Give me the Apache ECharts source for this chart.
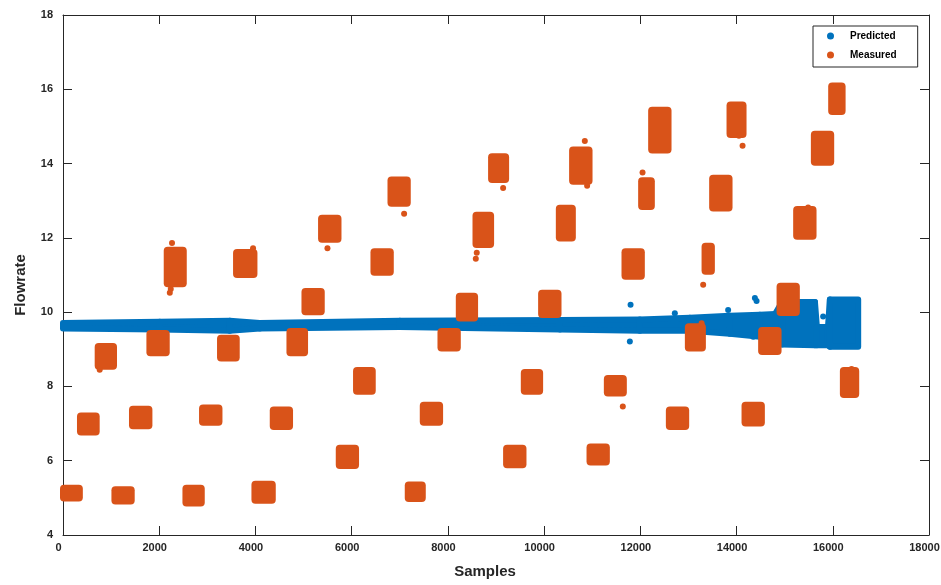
<!DOCTYPE html>
<html><head><meta charset="utf-8">
<script src="https://cdn.jsdelivr.net/npm/echarts@6/dist/echarts.min.js"></script>
<style>html,body{margin:0;padding:0;background:#fff}#c{width:941px;height:585px}</style>
</head><body><div id="c"></div>
<script>
// ---- tick labels ----
const xTicks = [0, 2000, 4000, 6000, 8000, 10000, 12000, 14000, 16000, 18000];
const xTickLabels = ['0', '2000', '4000', '6000', '8000', '10000', '12000', '14000', '16000', '18000'];
const yTicks = [4, 6, 8, 10, 12, 14, 16, 18];
const yTickLabels = ['4', '6', '8', '10', '12', '14', '16', '18'];

// ---- Measured: clusters of samples (extent of point cloud) ----
const measStart = [0, 353, 721, 1069, 1434, 1796, 2156, 2545, 2890, 3264, 3597, 3979, 4360, 4707, 5019, 5364, 5732, 6091, 6453, 6807, 7166, 7478, 7846, 8227, 8574, 8898, 9210, 9578, 9938, 10306, 10582, 10944, 11304, 11671, 12017, 12225, 12593, 12988, 13335, 13493, 13854, 14166, 14511, 14894, 15239, 15607, 15967, 16210];
const measEnd   = [350, 700, 1060, 1428, 1796, 2156, 2510, 2884, 3252, 3611, 3979, 4360, 4719, 5031, 5378, 5726, 6091, 6438, 6813, 7166, 7478, 7838, 8206, 8565, 8898, 9210, 9571, 9917, 10299, 10597, 10944, 11304, 11657, 12031, 12239, 12586, 12953, 13300, 13487, 13854, 14145, 14526, 14873, 15253, 15600, 15967, 16204, 16487];
const measLow   = [4.98, 6.76, 8.53, 4.90, 6.93, 8.89, 10.75, 4.85, 7.02, 8.75, 11.00, 4.92, 6.91, 8.89, 10.00, 11.95, 5.86, 7.86, 11.06, 12.92, 4.97, 7.02, 9.02, 9.83, 11.81, 13.56, 5.88, 7.86, 9.92, 11.98, 13.51, 5.95, 7.81, 10.95, 12.83, 14.35, 6.91, 9.02, 11.09, 12.79, 14.77, 7.00, 8.93, 9.98, 12.03, 14.02, 15.39, 7.77];
const measHigh  = [5.27, 7.22, 9.09, 5.23, 7.40, 9.44, 11.68, 5.27, 7.43, 9.31, 11.62, 5.38, 7.38, 9.49, 10.57, 12.54, 6.35, 8.44, 11.64, 13.57, 5.36, 7.51, 9.49, 10.44, 12.62, 14.20, 6.35, 8.39, 10.52, 12.81, 14.38, 6.38, 8.23, 11.64, 13.55, 15.45, 7.38, 9.62, 11.79, 13.62, 15.59, 7.51, 9.52, 10.71, 12.78, 14.80, 16.10, 8.44];
// isolated measured points
const measOutX = [2266, 2240, 2220, 763, 3950, 5497, 7090, 8580, 8600, 9148, 10846, 10894, 11636, 12046, 13273, 13306, 14049, 14125, 15488, 16390];
const measOutY = [11.86, 10.62, 10.52, 8.45, 11.72, 11.72, 12.65, 11.44, 11.60, 13.34, 14.61, 13.40, 7.46, 13.76, 9.70, 10.74, 14.75, 14.48, 12.82, 8.47];

// ---- Predicted: envelope of the dense band ----
const predSample = [0, 2010, 3466, 4090, 7000, 10330, 11990, 13030, 13860, 14485, 14800, 14945, 15630, 15670, 15900, 15940, 16528];
const predLow    = [9.56, 9.53, 9.50, 9.56, 9.60, 9.53, 9.50, 9.50, 9.42, 9.34, 9.25, 9.13, 9.11, 9.11, 9.11, 9.07, 9.07];
const predHigh   = [9.71, 9.74, 9.77, 9.71, 9.77, 9.79, 9.80, 9.85, 9.90, 9.93, 9.95, 10.27, 10.27, 9.60, 9.60, 10.34, 10.34];
const predOutX = [11797, 11782, 14381, 14416, 13825, 15800, 12717, 14345];
const predOutY = [10.20, 9.21, 10.38, 10.30, 10.06, 9.88, 9.97, 9.34];

const BLUE = '#0072BD', ORANGE = '#D95319', AX = '#262626';
const FONT = '"Liberation Sans", Arial, Helvetica, sans-serif';
const R = 3;

const clusterData = measStart.map((s, i) => [s, measEnd[i], measLow[i], measHigh[i]]);
const bandData = [];
for (let i = 0; i < predSample.length - 1; i++) {
  bandData.push([predSample[i], predLow[i], predHigh[i], predSample[i + 1], predLow[i + 1], predHigh[i + 1]]);
}

const chart = echarts.init(document.getElementById('c'), null, {renderer: 'canvas'});
const axisCommon = {
  type: 'value',
  axisLine: {show: true, onZero: false, lineStyle: {color: AX, width: 1}},
  axisTick: {show: true, inside: true, length: 9, lineStyle: {color: AX, width: 1}},
  splitLine: {show: false}
};
chart.setOption({
  animation: false,
  backgroundColor: '#fff',
  grid: {left: 63, right: 12, top: 15, bottom: 50, containLabel: false, outerBoundsMode: 'none'},
  legend: {
    left: 813, top: 26, orient: 'vertical',
    backgroundColor: '#fff', borderColor: AX, borderWidth: 1,
    padding: [5, 21, 7, 14], itemGap: 9, itemWidth: 7, itemHeight: 7,
    textStyle: {fontFamily: FONT, fontWeight: 'bold', fontSize: 10, color: '#000', padding: [0, 0, 0, 11]},
    data: [
      {name: 'Predicted', icon: 'circle', itemStyle: {color: BLUE}},
      {name: 'Measured', icon: 'circle', itemStyle: {color: ORANGE}}
    ]
  },
  xAxis: [
    Object.assign({}, axisCommon, {
      position: 'bottom', min: 0, max: 18000, interval: 2000,
      axisLabel: {show: true, margin: 7, color: AX, fontFamily: FONT, fontWeight: 'bold', fontSize: 11,
        padding: [0, 9, 0, 0],
        formatter: v => xTickLabels[xTicks.indexOf(v)]},
      name: 'Samples', nameLocation: 'middle', nameGap: 29,
      nameTextStyle: {fontFamily: FONT, fontWeight: 'bold', fontSize: 15, color: AX, padding: [0, 22, 0, 0]}
    }),
    Object.assign({}, axisCommon, {
      position: 'top', min: 0, max: 18000, interval: 2000, axisLabel: {show: false}
    })
  ],
  yAxis: [
    Object.assign({}, axisCommon, {
      position: 'left', min: 4, max: 18, interval: 2,
      axisLabel: {show: true, margin: 10, color: AX, fontFamily: FONT, fontWeight: 'bold', fontSize: 11,
        padding: [0, 0, 5, 0],
        formatter: v => yTickLabels[yTicks.indexOf(v)]},
      name: 'Flowrate', nameLocation: 'middle', nameGap: 35,
      nameTextStyle: {fontFamily: FONT, fontWeight: 'bold', fontSize: 15, color: AX, padding: [0, 20, 0, 0]}
    }),
    Object.assign({}, axisCommon, {
      position: 'right', min: 4, max: 18, interval: 2, axisLabel: {show: false}
    })
  ],
  series: [
    {
      name: 'Predicted', type: 'custom', xAxisIndex: 0, yAxisIndex: 0, clip: false,
      data: bandData, encode: {x: [0, 3], y: [1, 2, 4, 5]},
      itemStyle: {color: BLUE},
      renderItem: function (params, api) {
        const a = api.coord([api.value(0), api.value(2)]);
        const b = api.coord([api.value(3), api.value(5)]);
        const c = api.coord([api.value(3), api.value(4)]);
        const d = api.coord([api.value(0), api.value(1)]);
        return {type: 'polygon', shape: {points: [a, b, c, d]},
          style: {fill: BLUE, stroke: BLUE, lineWidth: 2 * R, lineJoin: 'round'}};
      },
      z: 2
    },
    {
      name: 'Predicted', type: 'scatter', symbol: 'circle', symbolSize: 2 * R,
      data: predOutX.map((x, i) => [x, predOutY[i]]), itemStyle: {color: BLUE, opacity: 1}, z: 2
    },
    {
      name: 'Measured', type: 'custom', clip: false,
      data: clusterData, encode: {x: [0, 1], y: [2, 3]},
      itemStyle: {color: ORANGE},
      renderItem: function (params, api) {
        const p1 = api.coord([api.value(0), api.value(3)]);
        const p2 = api.coord([api.value(1), api.value(2)]);
        return {type: 'rect', shape: {x: p1[0] - R, y: p1[1] - R, width: p2[0] - p1[0] + 2 * R,
          height: p2[1] - p1[1] + 2 * R, r: R + 1}, style: {fill: ORANGE}};
      },
      z: 3
    },
    {
      name: 'Measured', type: 'scatter', symbol: 'circle', symbolSize: 2 * R,
      data: measOutX.map((x, i) => [x, measOutY[i]]), itemStyle: {color: ORANGE, opacity: 1}, z: 3
    }
  ]
});
</script>
</body></html>
